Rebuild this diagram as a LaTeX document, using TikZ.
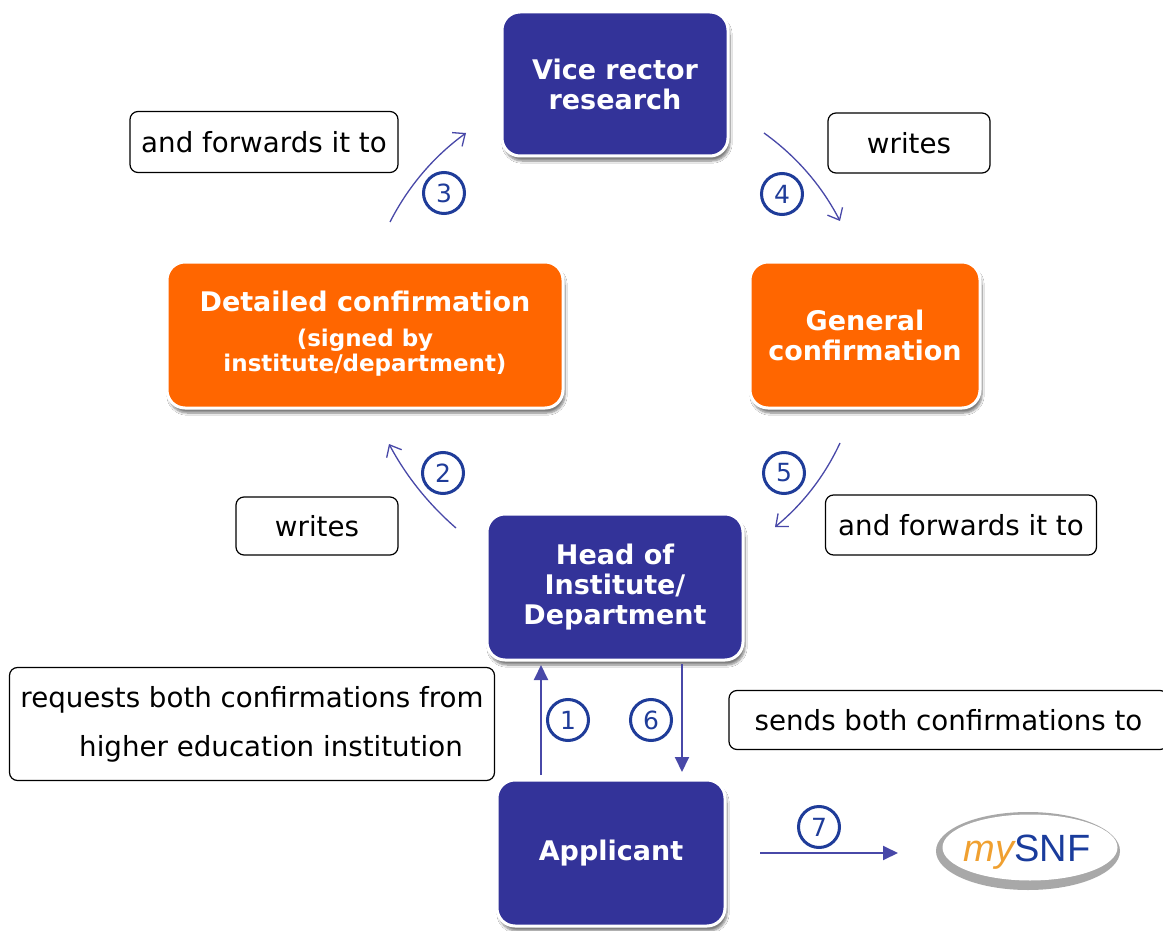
\documentclass[tikz,border=0pt]{standalone}
\usepackage{fontspec}
\setmainfont{DejaVu Sans}
\newfontfamily\logofont{Liberation Sans}
\usetikzlibrary{shadows.blur,arrows.meta}
\definecolor{dblue}{HTML}{333399}
\definecolor{orng}{HTML}{FF6600}
\definecolor{numblue}{HTML}{1F3C99}
\definecolor{arrblue}{HTML}{4848A8}
\definecolor{logoorange}{HTML}{F0A030}
\definecolor{logoblue}{HTML}{1A3C9C}
\definecolor{logogrey}{HTML}{A8A8A8}
\begin{document}
\begin{tikzpicture}[x=1pt,y=-1pt,
  mainbox/.style={rounded corners=18pt, draw=white, line width=3pt, text=white,
    font=\fontsize{27}{30}\selectfont\bfseries, align=center, inner sep=0pt,
    blur shadow={shadow blur steps=8, shadow xshift=2pt, shadow yshift=-5pt, shadow opacity=50}},
  bluebox/.style={mainbox, fill=dblue},
  orangebox/.style={mainbox, fill=orng},
  labelbox/.style={draw=black, line width=1.2pt, rounded corners=8pt, fill=white,
    font=\fontsize{27.7}{49}\selectfont, align=center, inner sep=0pt},
  numc/.style={circle, draw=numblue, line width=3pt, text=numblue, minimum size=41pt,
    inner sep=0pt, font=\fontsize{25}{25}\selectfont},
  curvearr/.style={draw=arrblue, line width=1.3pt, -{Straight Barb[length=10pt,width=17pt]}},
  straightarr/.style={draw=arrblue, line width=1.9pt, -{Triangle[length=15pt,width=14pt]}},
]
\useasboundingbox[fill=white] (0,0) rectangle (1163,931);

% main boxes
\node[bluebox, minimum width=226pt, minimum height=144pt] (vice) at (615,84) {Vice rector\\research};
\node[orangebox, minimum width=396pt, minimum height=146pt] (det) at (365,335)
  {Detailed confirmation\\[17pt]{\fontsize{23}{25}\selectfont\begin{tabular}{@{}c@{}}(signed by\\institute/department)\end{tabular}}};
\node[orangebox, minimum width=230pt, minimum height=146pt] (gen) at (865,335) {General\\confirmation};
\node[bluebox, minimum width=256pt, minimum height=146pt] (head) at (615,587) {Head of\\Institute/\\Department};
\node[bluebox, minimum width=228pt, minimum height=146pt] (app) at (611,853) {Applicant};

% label boxes
\node[labelbox, minimum width=268pt, minimum height=61pt] (fw1) at (264,142) {and forwards it to};
\node[labelbox, minimum width=162pt, minimum height=60pt] (wr1) at (909,143) {writes};
\node[labelbox, minimum width=162pt, minimum height=58pt] (wr2) at (317,526) {writes};
\node[labelbox, minimum width=271pt, minimum height=60pt] (fw2) at (961,525) {and forwards it to};
\node[labelbox, minimum width=485pt, minimum height=113pt] (req) at (252,724)
  {requests both confirmations from\\\hspace*{38pt}higher education institution};
\node[labelbox, minimum width=439pt, minimum height=59pt] (snd) at (948.5,720) {sends both confirmations to};

% numbers
\node[numc] (n3) at (444,193) {3};
\node[numc] (n4) at (782,194) {4};
\node[numc] (n2) at (443,473) {2};
\node[numc] (n5) at (784,473) {5};
\node[numc] (n1) at (568,720) {1};
\node[numc] (n6) at (651,720) {6};
\node[numc] (n7) at (819,827) {7};

% logo
\fill[logogrey] (1028,851) ellipse [x radius=92pt, y radius=39pt];
\fill[white] (1030,847.5) ellipse [x radius=87.5pt, y radius=33pt];
\node[inner sep=0pt] (logo) at (1027,852)
  {\logofont\fontsize{38}{38}\selectfont\textcolor{logoorange}{\itshape my}\textcolor{logoblue}{SNF}};

% arrow coordinates
\coordinate (a3s) at (390,222); \coordinate (a3e) at (466,133);
\coordinate (a4s) at (764,133); \coordinate (a4e) at (840,221);
\coordinate (a2s) at (456,528); \coordinate (a2e) at (389,444);
\coordinate (a5s) at (840,443); \coordinate (a5e) at (775,527);
\coordinate (a1s) at (541,775); \coordinate (a1e) at (541,665);
\coordinate (a6s) at (682,664); \coordinate (a6e) at (682,772);
\coordinate (a7s) at (760,853); \coordinate (a7e) at (898,853);

\draw[curvearr] (a3s) .. controls (408.3,186.3) and (433.6,156.6) .. (a3e);
\draw[curvearr] (a4s) .. controls (796.4,156.3) and (821.7,185.6) .. (a4e);
\draw[curvearr] (a2s) .. controls (428.5,504.1) and (406.1,476.1) .. (a2e);
\draw[curvearr] (a5s) .. controls (824.7,475.9) and (803,503.9) .. (a5e);
\draw[straightarr] (a1s) -- (a1e);
\draw[straightarr] (a6s) -- (a6e);
\draw[straightarr] (a7s) -- (a7e);
\end{tikzpicture}
\end{document}
